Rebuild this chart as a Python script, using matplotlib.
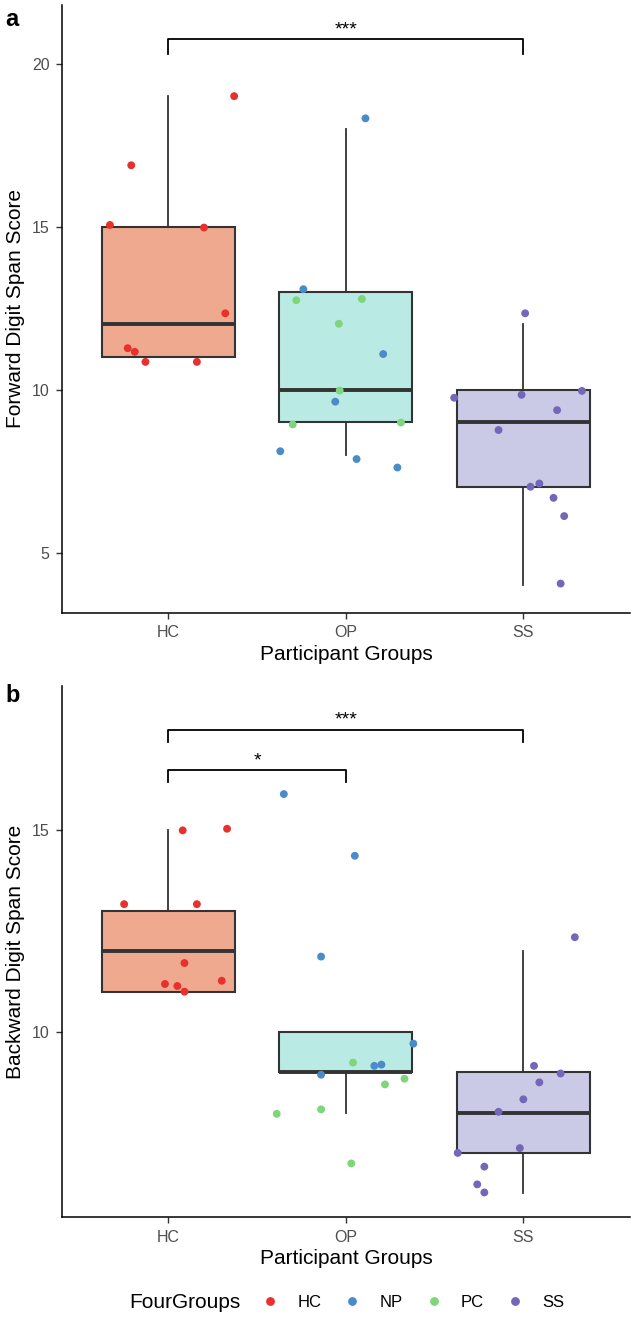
import matplotlib
matplotlib.use("Agg")
import matplotlib.pyplot as plt
from matplotlib.lines import Line2D

plt.rcParams['font.family'] = ['Liberation Sans', 'DejaVu Sans']

groups = ["HC", "OP", "SS"]
point_groups = ["HC", "NP", "PC", "SS"]
point_colors = {"HC": "#E8302E", "NP": "#4A8CC9", "PC": "#7ED57A", "SS": "#7466B8"}
box_fills = ["#EEA98F", "#B9EBE4", "#CBCAE6"]

# box stats: q1, median, q3, lower whisker, upper whisker
fwd_q1 = [11, 9, 7]
fwd_med = [12, 10, 9]
fwd_q3 = [15, 13, 10]
fwd_lo = [11, 8, 4]
fwd_hi = [19, 18, 12]

bwd_q1 = [11, 9, 7]
bwd_med = [12, 9, 8]
bwd_q3 = [13, 10, 9]
bwd_lo = [11, 8, 6]
bwd_hi = [15, 10, 12]

# jittered points: box index, jitter offset, value, colour group
fwd_box = [0]*9 + [1]*13 + [2]*11
fwd_jit = [0.37, -0.21, -0.33, 0.20, 0.32, -0.23, -0.19, -0.13, 0.16,
           0.11, -0.24, -0.28, 0.09, -0.04, 0.21, -0.035, -0.06, -0.30, 0.31, -0.37, 0.06, 0.29,
           0.01, -0.39, -0.01, 0.33, 0.19, -0.14, 0.04, 0.09, 0.17, 0.23, 0.21]
fwd_val = [19.0, 16.88, 15.05, 14.97, 12.34, 11.27, 11.16, 10.85, 10.85,
           18.32, 13.08, 12.74, 12.78, 12.02, 11.09, 9.97, 9.63, 8.93, 8.99, 8.11, 7.87, 7.61,
           12.34, 9.75, 9.84, 9.96, 9.37, 8.76, 7.02, 7.12, 6.68, 6.12, 4.05]
fwd_grp = ["HC"]*9 + ["NP", "NP", "PC", "PC", "PC", "NP", "PC", "NP", "PC", "PC", "NP", "NP", "NP"] + ["SS"]*11

bwd_box = [0]*9 + [1]*13 + [2]*11
bwd_jit = [0.08, 0.33, -0.25, 0.16, 0.09, -0.02, 0.05, 0.09, 0.30,
           -0.35, 0.05, -0.14, 0.38, 0.04, 0.16, 0.20, -0.14, 0.33, 0.22, -0.39, -0.14, 0.03,
           0.29, 0.06, 0.21, 0.09, 0.0, -0.14, -0.02, -0.37, -0.22, -0.26, -0.22]
bwd_val = [15.0, 15.04, 13.17, 13.17, 11.71, 11.19, 11.14, 11.0, 11.27,
           15.9, 14.37, 11.87, 9.71, 9.24, 9.16, 9.19, 8.94, 8.84, 8.70, 7.97, 8.08, 6.74,
           12.35, 9.16, 8.97, 8.75, 8.33, 8.02, 7.12, 7.0, 6.66, 6.22, 6.02]
bwd_grp = ["HC"]*9 + ["NP", "NP", "NP", "NP", "PC", "NP", "NP", "NP", "PC", "PC", "PC", "PC", "PC"] + ["SS"]*11

fwd_ticks = [5, 10, 15, 20]
bwd_ticks = [10, 15]

# significance brackets: (group from, group to, y, label)
fwd_sig = [(0, 2, 20.75, "***")]
bwd_sig = [(0, 2, 17.5, "***"), (0, 1, 16.5, "*")]


def panel(ax, q1, med, q3, lo, hi, box, jit, val, grp, ticks, ylim, sig, ylabel, tip):
    stats = []
    for i in range(len(groups)):
        stats.append(dict(q1=q1[i], med=med[i], q3=q3[i], whislo=lo[i], whishi=hi[i], fliers=[]))
    bp = ax.bxp(stats, positions=[1, 2, 3], widths=0.75, patch_artist=True, showcaps=False,
                boxprops=dict(edgecolor="#333333", linewidth=1.5),
                whiskerprops=dict(color="#333333", linewidth=1.3),
                medianprops=dict(color="#333333", linewidth=2.8, solid_capstyle="butt"))
    for p, c in zip(bp["boxes"], box_fills):
        p.set_facecolor(c)
    xs = [b + 1 + j for b, j in zip(box, jit)]
    cs = [point_colors[g] for g in grp]
    ax.scatter(xs, val, c=cs, s=32, linewidths=0, zorder=3)
    for a, b, y, lab in sig:
        ax.plot([a + 1, a + 1, b + 1, b + 1], [y - tip, y, y, y - tip], color="black", lw=1.3)
        ax.text((a + b) / 2 + 1, y + tip * 0.05, lab, ha="center", va="bottom", fontsize=14)
    ax.set_xlim(0.4, 3.6)
    ax.set_ylim(*ylim)
    ax.set_xticks([1, 2, 3])
    ax.set_xticklabels(groups)
    ax.set_yticks(ticks)
    ax.tick_params(colors="#333333", labelcolor="#4D4D4D", labelsize=11.5, length=4, width=1, pad=5)
    for s in ["top", "right"]:
        ax.spines[s].set_visible(False)
    for s in ["left", "bottom"]:
        ax.spines[s].set_linewidth(1.1)
    ax.set_xlabel("Participant Groups", fontsize=15, labelpad=3)
    ax.set_ylabel(ylabel, fontsize=15, labelpad=5)


fig = plt.figure(figsize=(6.33, 13.17), dpi=100)
ax1 = fig.add_axes([0.098, 0.5346, 0.897, 0.4617])
ax2 = fig.add_axes([0.098, 0.0759, 0.897, 0.4032])

panel(ax1, fwd_q1, fwd_med, fwd_q3, fwd_lo, fwd_hi, fwd_box, fwd_jit, fwd_val, fwd_grp,
      fwd_ticks, (3.15, 21.8), fwd_sig, "Forward Digit Span Score", 0.47)
panel(ax2, bwd_q1, bwd_med, bwd_q3, bwd_lo, bwd_hi, bwd_box, bwd_jit, bwd_val, bwd_grp,
      bwd_ticks, (5.41, 18.58), bwd_sig, "Backward Digit Span Score", 0.31)

fig.text(0.008, 0.985, "a", fontsize=17, fontweight="bold", va="center")
fig.text(0.008, 0.472, "b", fontsize=17, fontweight="bold", va="center")

handles = [Line2D([], [], marker="o", ls="", color=point_colors[g], markersize=5.3) for g in point_groups]
fig.text(0.204, 0.0112, "FourGroups", fontsize=15, va="center")
fig.legend(handles, point_groups, loc="center left", bbox_to_anchor=(0.413, 0.0112), ncol=4,
           frameon=False, fontsize=12, handletextpad=1.15, columnspacing=1.35, handlelength=1.0,
           borderpad=0, borderaxespad=0)

fig.savefig("out.png", dpi=100)
